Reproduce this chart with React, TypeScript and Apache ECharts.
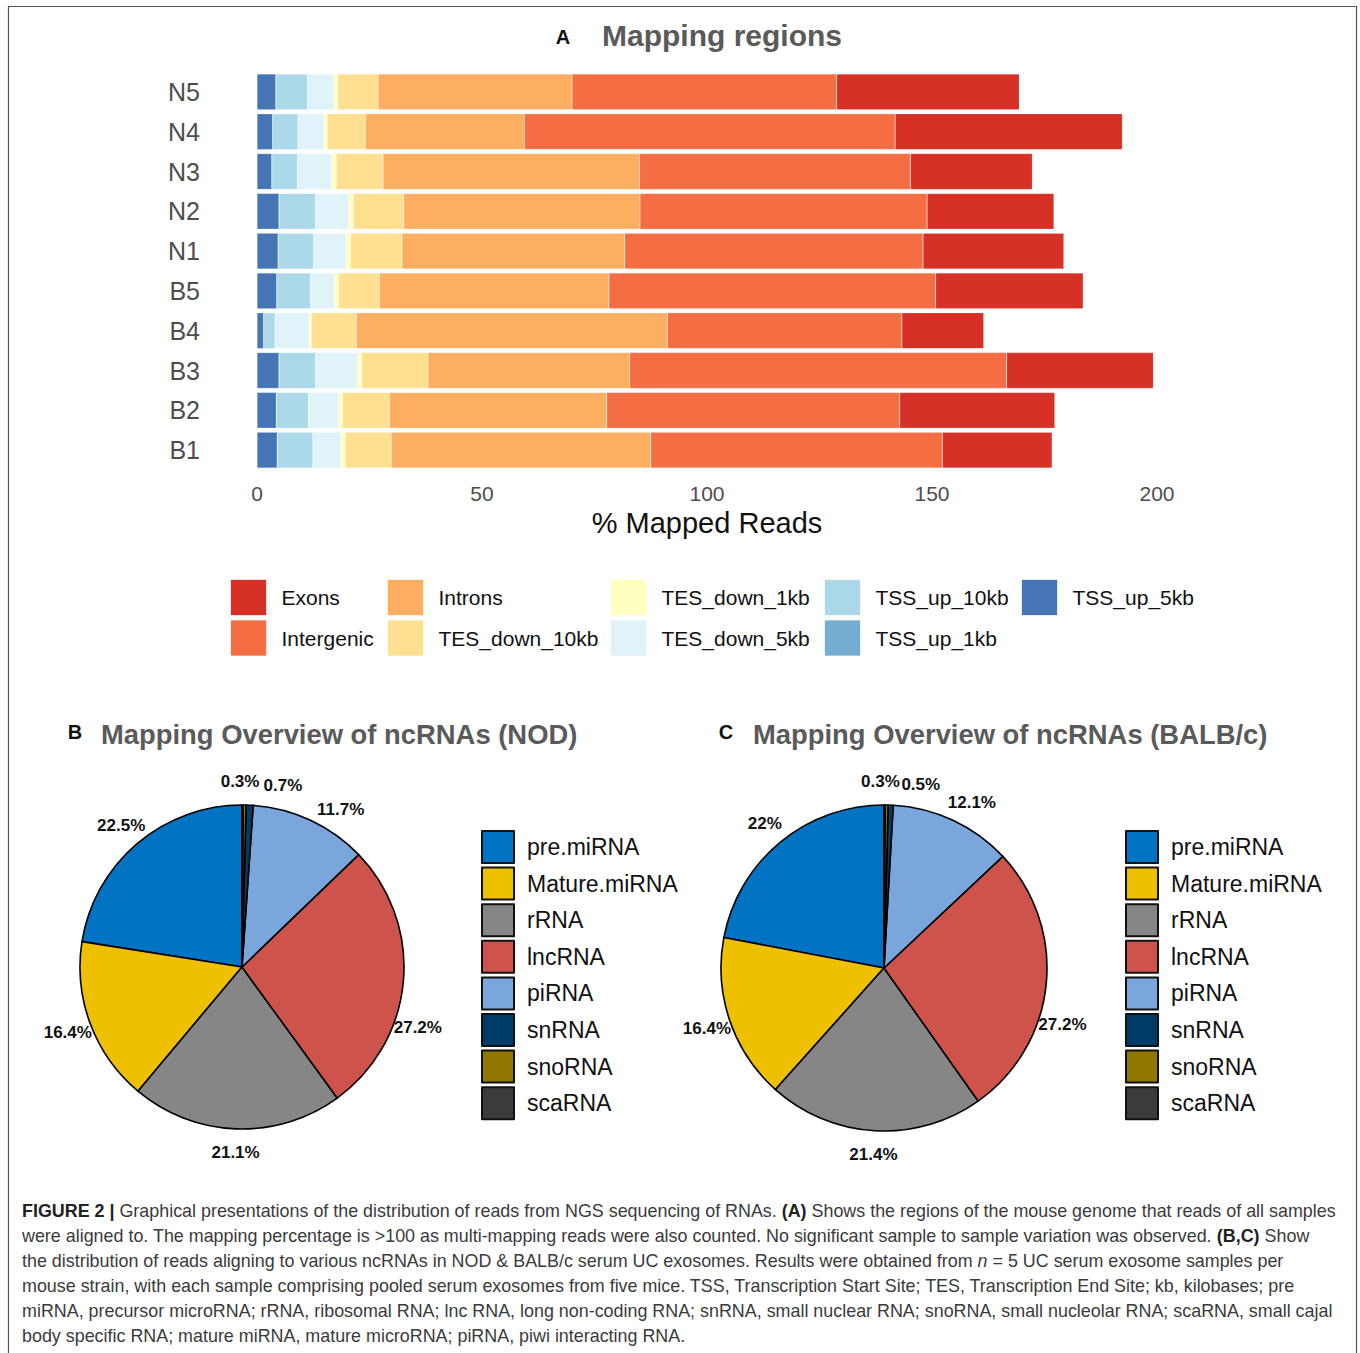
import React, { useEffect, useRef } from "react";
import * as echarts from "echarts";

// ---------- Panel A data ----------
const CATEGORIES = ["B1", "B2", "B3", "B4", "B5", "N1", "N2", "N3", "N4", "N5"];
const X_TICKS = [0, 50, 100, 150, 200];

const TSS_UP_5KB = [4.5, 4.3, 4.9, 1.5, 4.4, 4.7, 4.9, 3.3, 3.5, 4.2];
const TSS_UP_1KB = [0, 0, 0, 0, 0, 0, 0, 0, 0, 0];
const TSS_UP_10KB = [7.9, 7.1, 8.1, 2.5, 7.5, 7.9, 8.1, 5.7, 5.6, 7.0];
const TES_DOWN_5KB = [6.2, 6.7, 9.3, 7.6, 5.3, 7.2, 7.4, 7.6, 5.8, 5.9];
const TES_DOWN_1KB = [1.0, 0.9, 1.0, 0.5, 0.9, 1.0, 1.0, 1.0, 0.7, 0.8];
const TES_DOWN_10KB = [10.2, 10.4, 14.7, 10.0, 9.1, 11.4, 11.2, 10.4, 8.5, 9.0];
const INTRONS = [57.7, 48.3, 44.8, 69.1, 51.0, 49.5, 52.5, 57.0, 35.3, 43.1];
const INTERGENIC = [64.8, 65.1, 83.8, 52.1, 72.6, 66.3, 63.8, 60.2, 82.4, 58.8];
const EXONS = [24.4, 34.5, 32.6, 18.2, 32.8, 31.3, 28.2, 27.1, 50.5, 40.6];

// stacking order (left to right)
const REGION_SERIES: [string, number[]][] = [
  ["TSS_up_5kb", TSS_UP_5KB],
  ["TSS_up_1kb", TSS_UP_1KB],
  ["TSS_up_10kb", TSS_UP_10KB],
  ["TES_down_5kb", TES_DOWN_5KB],
  ["TES_down_1kb", TES_DOWN_1KB],
  ["TES_down_10kb", TES_DOWN_10KB],
  ["Introns", INTRONS],
  ["Intergenic", INTERGENIC],
  ["Exons", EXONS],
];

const REGION_COLORS: Record<string, string> = {
  Exons: "#D73027",
  Intergenic: "#F46D43",
  Introns: "#FDAE61",
  TES_down_10kb: "#FEE090",
  TES_down_1kb: "#FFFFBF",
  TES_down_5kb: "#E0F3F8",
  TSS_up_10kb: "#ABD9E9",
  TSS_up_1kb: "#74ADD1",
  TSS_up_5kb: "#4575B4",
};

// legend columns (column-major, 2 rows)
const REGION_LEGEND_COLUMNS = [
  ["Exons", "Intergenic"],
  ["Introns", "TES_down_10kb"],
  ["TES_down_1kb", "TES_down_5kb"],
  ["TSS_up_10kb", "TSS_up_1kb"],
  ["TSS_up_5kb"],
];

// ---------- Panels B, C data ----------
const NCRNA_NAMES = ["pre.miRNA", "Mature.miRNA", "rRNA", "lncRNA", "piRNA", "snRNA", "snoRNA", "scaRNA"];
const NOD_VALUES = [22.5, 16.4, 21.1, 27.2, 11.7, 0.7, 0.3, 0.1];
const BALB_VALUES = [22, 16.4, 21.4, 27.2, 12.1, 0.5, 0.3, 0.1];
const NCRNA_COLORS = ["#0073C2", "#EFC000", "#868686", "#CD534C", "#7AA6DC", "#003C67", "#8F7700", "#3B3B3B"];

// label angular nudges (degrees, clockwise) — styling only
const NOD_LABEL_NUDGE = [0, 0, 0, 14, 7, 10, -1.5, 0];
const BALB_LABEL_NUDGE = [0, 0, 0, 11.7, 3, 9, -2, 0];

const FONT = "Liberation Sans, Arial, Helvetica, sans-serif";

function pieLabelLayout(values: number[], cx: number, cy: number, R: number, nudges: number[]) {
  const total = values.reduce((a, b) => a + b, 0);
  return (params: any) => {
    const i = params.dataIndex;
    let cum = 0;
    for (let k = 0; k < i; k++) cum += values[k];
    const midCcw = ((cum + values[i] / 2) / total) * 360;
    const cw = ((360 - midCcw + nudges[i]) * Math.PI) / 180;
    return {
      x: cx + R * Math.sin(cw),
      y: cy - R * Math.cos(cw),
      align: "center",
      verticalAlign: "middle",
    };
  };
}

function pieSeries(name: string, values: number[], cx: number, cy: number, r: number, nudges: number[]) {
  return {
    type: "pie",
    name,
    center: [cx, cy],
    radius: r,
    startAngle: 90,
    clockwise: false,
    avoidLabelOverlap: false,
    itemStyle: { borderColor: "#000", borderWidth: 1.6 },
    label: {
      show: true,
      position: "outside",
      formatter: (p: any) => `${p.value}%`,
      fontFamily: FONT,
      fontWeight: "bold",
      fontSize: 17,
      color: "#111",
    },
    labelLine: { show: false },
    labelLayout: pieLabelLayout(values, cx, cy, r + 24, nudges),
    emphasis: { disabled: true },
    data: values.map((v, i) => ({
      name: NCRNA_NAMES[i],
      value: v,
      itemStyle: { color: NCRNA_COLORS[i] },
      label: i === values.length - 1 ? { show: false } : undefined,
    })),
  };
}

const CAPTION_LINES = [
  "{b|FIGURE 2 |} Graphical presentations of the distribution of reads from NGS sequencing of RNAs. {b|(A)} Shows the regions of the mouse genome that reads of all samples",
  "were aligned to. The mapping percentage is >100 as multi-mapping reads were also counted. No significant sample to sample variation was observed. {b|(B,C)} Show",
  "the distribution of reads aligning to various ncRNAs in NOD & BALB/c serum UC exosomes. Results were obtained from {i|n} = 5 UC serum exosome samples per",
  "mouse strain, with each sample comprising pooled serum exosomes from five mice. TSS, Transcription Start Site; TES, Transcription End Site; kb, kilobases; pre",
  "miRNA, precursor microRNA; rRNA, ribosomal RNA; lnc RNA, long non-coding RNA; snRNA, small nuclear RNA; snoRNA, small nucleolar RNA; scaRNA, small cajal",
  "body specific RNA; mature miRNA, mature microRNA; piRNA, piwi interacting RNA.",
];

export default function App() {
  const ref = useRef<HTMLDivElement>(null);

  useEffect(() => {
    if (!ref.current) return;
    const chart = echarts.init(ref.current, undefined, { renderer: "svg" });

    const barSeries = REGION_SERIES.map(([name, data]) => ({
      type: "bar",
      name,
      stack: "total",
      data,
      barCategoryGap: "10%",
      itemStyle: { color: REGION_COLORS[name], borderColor: "rgba(255,255,255,0.35)", borderWidth: 0.5 },
      emphasis: { disabled: true },
    }));

    const barLegendLefts = [230, 387, 610, 824, 1021];
    const barLegends = REGION_LEGEND_COLUMNS.map((col, i) => ({
      orient: "vertical",
      left: barLegendLefts[i],
      top: 579,
      padding: 0,
      itemWidth: 36,
      itemHeight: 36,
      itemGap: 3.5,
      icon: "rect",
      selectedMode: false,
      data: col,
      itemStyle: { borderColor: "rgba(255,255,255,0.7)", borderWidth: 1 },
      textStyle: { fontFamily: FONT, fontSize: 21, color: "#111", padding: [0, 0, 0, 10] },
    }));

    const pieLegend = (left: number) => ({
      orient: "vertical",
      left,
      top: 830,
      padding: 0,
      itemWidth: 32,
      itemHeight: 32,
      itemGap: 2.6,
      icon: "rect",
      selectedMode: false,
      data: NCRNA_NAMES,
      itemStyle: { borderColor: "#111", borderWidth: 2 },
      textStyle: { fontFamily: FONT, fontSize: 23, color: "#111", padding: [0, 0, 0, 8] },
    });

    const captionGraphics = CAPTION_LINES.map((line, i) => ({
      type: "text",
      left: 22,
      top: 1202 + i * 25,
      style: {
        text: line,
        fontFamily: FONT,
        fontSize: 17.9,
        fill: "#3a3a3a",
        rich: {
          b: { fontFamily: FONT, fontSize: 17.9, fontWeight: "bold", fill: "#222" },
          i: { fontFamily: FONT, fontSize: 17.9, fontStyle: "italic", fill: "#3a3a3a" },
        },
      },
    }));

    const option: any = {
      animation: false,
      backgroundColor: "#fff",
      textStyle: { fontFamily: FONT },
      grid: { left: 257, top: 72, width: 900, height: 398, containLabel: false },
      xAxis: {
        type: "value",
        min: X_TICKS[0],
        max: X_TICKS[X_TICKS.length - 1],
        interval: 50,
        axisLine: { show: false },
        axisTick: { show: false },
        splitLine: { show: false },
        axisLabel: { fontSize: 21, color: "#4D4D4D", margin: 13, fontFamily: FONT },
        name: "% Mapped Reads",
        nameLocation: "middle",
        nameGap: 38,
        nameTextStyle: { fontSize: 29, color: "#111", fontFamily: FONT },
      },
      yAxis: {
        type: "category",
        data: CATEGORIES,
        axisLine: { show: false },
        axisTick: { show: false },
        splitLine: { show: false },
        axisLabel: { fontSize: 25, color: "#4D4D4D", margin: 57, fontFamily: FONT },
      },
      legend: [...barLegends, pieLegend(481), pieLegend(1125)],
      series: [
        ...barSeries,
        pieSeries("NOD", NOD_VALUES, 242, 967, 162, NOD_LABEL_NUDGE),
        pieSeries("BALB/c", BALB_VALUES, 884, 968, 163, BALB_LABEL_NUDGE),
      ],
      graphic: [
        {
          type: "rect",
          shape: { x: 8.5, y: 6.5, width: 1348, height: 1360 },
          style: { fill: "none", stroke: "#555", lineWidth: 1.2 },
          silent: true,
        },
        {
          type: "text",
          x: 563,
          y: 37,
          style: { text: "A", fontFamily: FONT, fontWeight: "bold", fontSize: 20, fill: "#111", align: "center", verticalAlign: "middle" },
        },
        {
          type: "text",
          x: 722,
          y: 35,
          style: { text: "Mapping regions", fontFamily: FONT, fontWeight: "bold", fontSize: 30, fill: "#5A5A5A", align: "center", verticalAlign: "middle" },
        },
        {
          type: "text",
          x: 75,
          y: 732,
          style: { text: "B", fontFamily: FONT, fontWeight: "bold", fontSize: 20, fill: "#111", align: "center", verticalAlign: "middle" },
        },
        {
          type: "text",
          x: 101,
          y: 734,
          style: { text: "Mapping Overview of ncRNAs (NOD)", fontFamily: FONT, fontWeight: "bold", fontSize: 27.4, fill: "#5A5A5A", align: "left", verticalAlign: "middle" },
        },
        {
          type: "text",
          x: 726,
          y: 732,
          style: { text: "C", fontFamily: FONT, fontWeight: "bold", fontSize: 20, fill: "#111", align: "center", verticalAlign: "middle" },
        },
        {
          type: "text",
          x: 753,
          y: 734,
          style: { text: "Mapping Overview of ncRNAs (BALB/c)", fontFamily: FONT, fontWeight: "bold", fontSize: 27.4, fill: "#5A5A5A", align: "left", verticalAlign: "middle" },
        },
        ...captionGraphics,
      ],
    };

    chart.setOption(option);
    return () => chart.dispose();
  }, []);

  return (
    <div
      ref={ref}
      style={{ position: "absolute", left: 0, top: 0, width: 1360, height: 1353, background: "#fff" }}
    />
  );
}
